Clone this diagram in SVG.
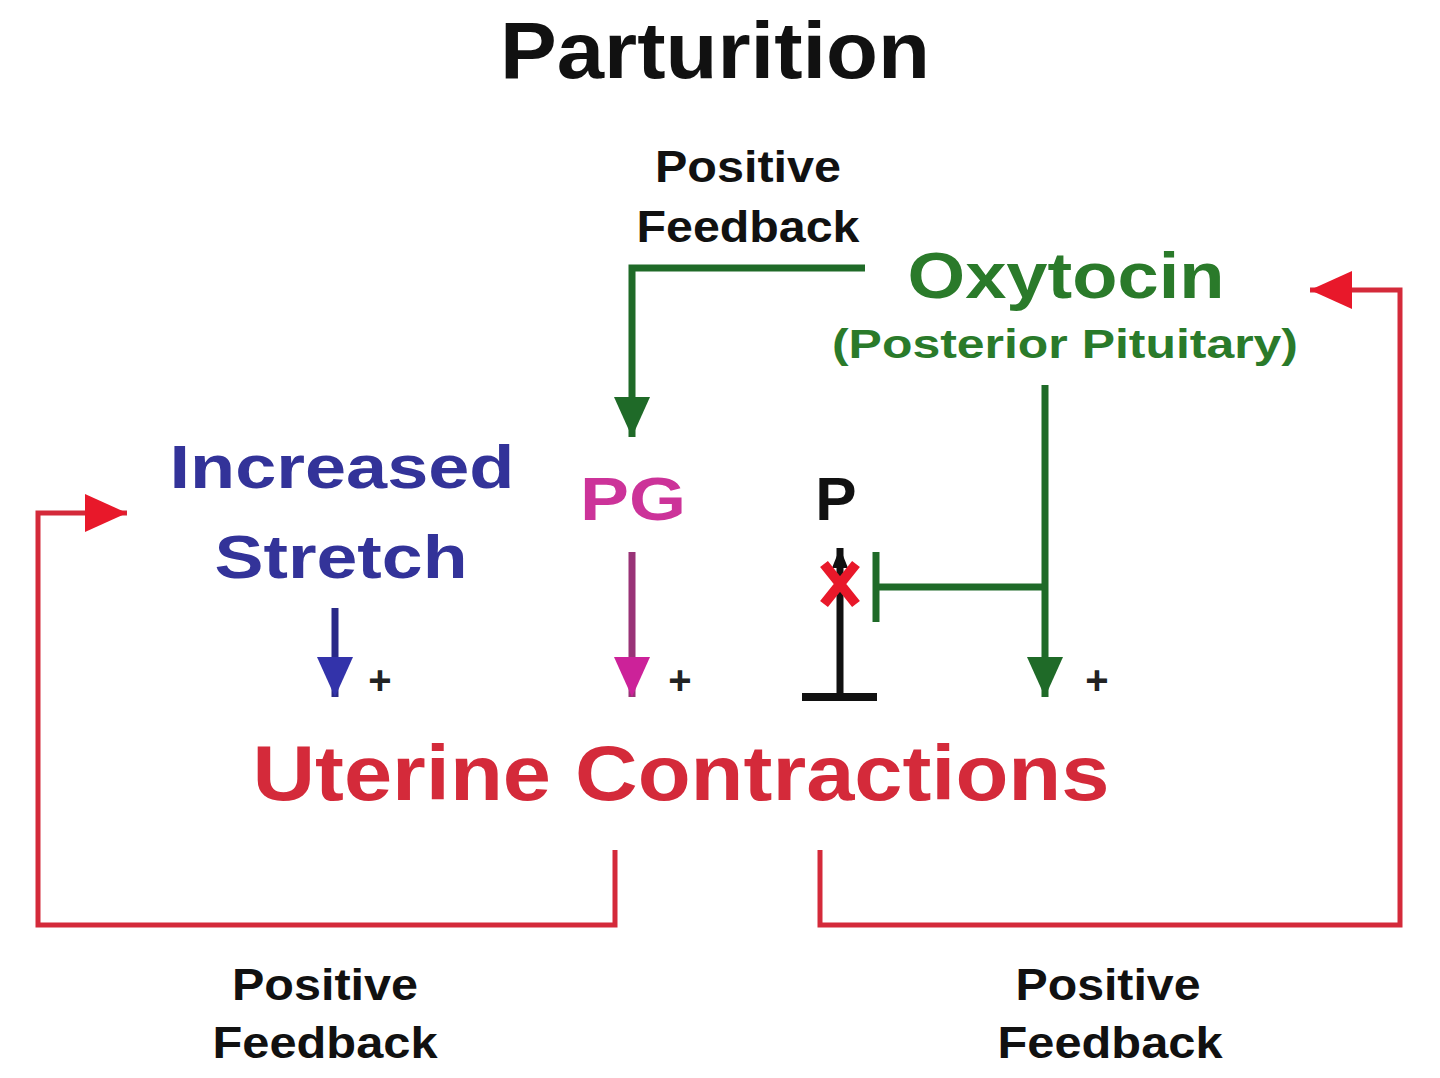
<svg xmlns="http://www.w3.org/2000/svg" width="1440" height="1078" viewBox="0 0 1440 1078">
<style>
text{font-family:"Liberation Sans",Arial,sans-serif;font-weight:bold;text-anchor:middle}
.fb{font-size:44px;fill:#111}
.plus{font-size:40px;fill:#222;font-weight:bold}
.g{stroke:#1f6a28;stroke-width:7;fill:none}
.r{stroke:#d42a3a;stroke-width:5;fill:none}
</style>
<defs>
<marker id="ag" markerUnits="userSpaceOnUse" markerWidth="40" markerHeight="40" viewBox="0 0 40 40" refX="40" refY="20" orient="auto"><path d="M0,2 L40,20 L0,38 Z" fill="#1f6a28"/></marker>
<marker id="ab" markerUnits="userSpaceOnUse" markerWidth="40" markerHeight="40" viewBox="0 0 40 40" refX="40" refY="20" orient="auto"><path d="M0,2 L40,20 L0,38 Z" fill="#3333aa"/></marker>
<marker id="am" markerUnits="userSpaceOnUse" markerWidth="40" markerHeight="40" viewBox="0 0 40 40" refX="40" refY="20" orient="auto"><path d="M0,2 L40,20 L0,38 Z" fill="#cc2299"/></marker>
<marker id="ar" markerUnits="userSpaceOnUse" markerWidth="42" markerHeight="42" viewBox="0 0 42 42" refX="42" refY="21" orient="auto"><path d="M0,2 L42,21 L0,40 Z" fill="#e8182a"/></marker>
<marker id="ak" markerUnits="userSpaceOnUse" markerWidth="20" markerHeight="20" viewBox="0 0 20 20" refX="20" refY="10" orient="auto"><path d="M0,2 L20,10 L0,18 Z" fill="#111"/></marker>
</defs>
<g id="title"><text x="715" y="78" font-size="80" fill="#111" textLength="430" lengthAdjust="spacingAndGlyphs">Parturition</text></g>
<g id="fb-top"><text class="fb" x="748" y="182" textLength="186" lengthAdjust="spacingAndGlyphs">Positive</text><text class="fb" x="748" y="242" textLength="223" lengthAdjust="spacingAndGlyphs">Feedback</text></g>
<g id="oxytocin"><text x="1066" y="298" font-size="64" fill="#2a7a2a" textLength="317" lengthAdjust="spacingAndGlyphs">Oxytocin</text><text x="1065" y="358" font-size="40" fill="#2a7a2a" textLength="466" lengthAdjust="spacingAndGlyphs">(Posterior Pituitary)</text></g>
<g id="stretch"><text x="342" y="488" font-size="62" fill="#333399" textLength="345" lengthAdjust="spacingAndGlyphs">Increased</text><text x="341" y="578" font-size="62" fill="#333399" textLength="253" lengthAdjust="spacingAndGlyphs">Stretch</text></g>
<g id="pg"><text x="633" y="520" font-size="62" fill="#cc3399" textLength="106" lengthAdjust="spacingAndGlyphs">PG</text></g>
<g id="p"><text x="836" y="520" font-size="62" fill="#111">P</text></g>
<g id="uterine"><text x="681" y="800" font-size="78" fill="#d42a3a" textLength="857" lengthAdjust="spacingAndGlyphs">Uterine Contractions</text></g>
<g id="fb-left"><text class="fb" x="325" y="1000" textLength="186" lengthAdjust="spacingAndGlyphs">Positive</text><text class="fb" x="325" y="1058" textLength="225" lengthAdjust="spacingAndGlyphs">Feedback</text></g>
<g id="fb-right"><text class="fb" x="1108" y="1000" textLength="185" lengthAdjust="spacingAndGlyphs">Positive</text><text class="fb" x="1110" y="1058" textLength="225" lengthAdjust="spacingAndGlyphs">Feedback</text></g>
<g id="plus"><text class="plus" x="380" y="694">+</text><text class="plus" x="680" y="694">+</text><text class="plus" x="1097" y="694">+</text></g>
<g id="connectors">
<path class="g" d="M865,268 H632 V437" marker-end="url(#ag)"/>
<path class="g" d="M1045,385 V697" marker-end="url(#ag)"/>
<path class="g" d="M1045,587 H876"/>
<path class="g" d="M876,552 V622"/>
<path d="M335,608 V697" stroke="#2a2a88" stroke-width="7" fill="none" marker-end="url(#ab)"/>
<path d="M632,552 V697" stroke="#993377" stroke-width="7" fill="none" marker-end="url(#am)"/>
<path d="M840,697 V548" stroke="#111" stroke-width="7" fill="none" marker-end="url(#ak)"/>
<path d="M802,697 H877" stroke="#111" stroke-width="8" fill="none"/>
<path d="M824,564 L856,604 M856,564 L824,604" stroke="#e8182a" stroke-width="10" fill="none"/>
<path class="r" d="M615,850 V925 H38 V513 H127" marker-end="url(#ar)"/>
<path class="r" d="M820,850 V925 H1400 V290 H1310" marker-end="url(#ar)"/>
</g>
</svg>
